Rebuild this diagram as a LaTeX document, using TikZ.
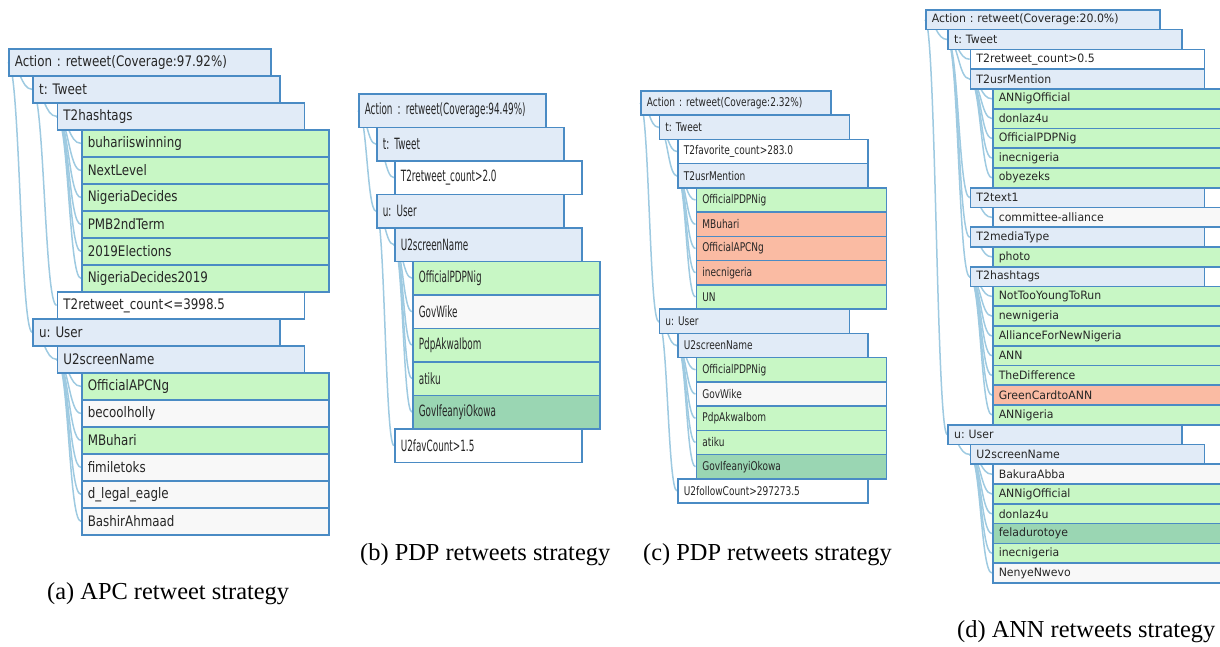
\documentclass[tikz,border=0pt]{standalone}
\usepackage{fontspec}
\setmainfont{Liberation Serif}
\newfontfamily\apcfont[FakeStretch=0.82]{DejaVu Sans}
\newfontfamily\pdpfont[FakeStretch=0.57]{DejaVu Sans}
\newfontfamily\pdpsmallfont[FakeStretch=0.75]{DejaVu Sans}
\newfontfamily\annfont[FakeStretch=0.95]{DejaVu Sans}
\frenchspacing
\usetikzlibrary{backgrounds}
\definecolor{boxline}{RGB}{74,139,196}
\definecolor{linkblue}{HTML}{9ECAE1}
\definecolor{hdrfill}{RGB}{225,235,247}
\definecolor{greenfill}{RGB}{200,247,197}
\definecolor{redfill}{RGB}{250,187,163}
\definecolor{deepfill}{RGB}{154,214,179}
\definecolor{greyfill}{RGB}{248,248,248}
\tikzset{
    tree/.style = {draw=boxline, line width=1.7pt, rectangle, anchor=north west,
        inner xsep=6pt, inner ysep=0pt, align=left, text=black!85},
    hdrbox/.style = {tree, fill=hdrfill},
    condbox/.style = {tree, fill=white},
    greenbox/.style = {tree, fill=greenfill},
    redbox/.style = {tree, fill=redfill},
    deepbox/.style = {tree, fill=deepfill},
    greybox/.style = {tree, fill=greyfill},
    link/.style = {draw=linkblue, line width=1.5pt},
    caption/.style = {anchor=base west, inner sep=0pt, font=\fontsize{24.4}{28}\selectfont},
    apc/.style = {shift={(8pt,-48pt)}, x=24.3pt, y=-27pt,
        nodes={minimum height=27pt, text width=235pt, font=\apcfont\fontsize{14.5}{16}\selectfont}},
    pdp/.style = {shift={(358pt,-93pt)}, x=18pt, y=-33.5pt,
        nodes={minimum height=33.5pt, text width=175pt, font=\pdpfont\fontsize{15.5}{17}\selectfont}},
    pdpsmall/.style = {shift={(640pt,-90pt)}, x=18.5pt, y=-24.25pt,
        nodes={minimum height=24.25pt, text width=178pt, font=\pdpsmallfont\fontsize{12}{14}\selectfont}},
    ann/.style = {shift={(925pt,-9pt)}, x=22.3pt, y=-19.76pt,
        nodes={minimum height=19.76pt, text width=222pt, font=\annfont\fontsize{11.5}{13}\selectfont}}
}
% parent to child, entering both boxes at their left side
\newcommand{\lnk}[2]{\draw[link] (#1.west) .. controls +(.5,0) and +(-.5,0) .. (#2.west);}

\begin{document}
\begin{tikzpicture}
    \clip (0,0) rectangle (1220pt,-646pt);

    % APC
    \begin{scope}[apc]
        \node[hdrbox, text width=250pt] (aact) at (0,0) {Action : retweet(Coverage:97.92\%)};
        \node[hdrbox] (atw) at (1,1) {t: Tweet};
        \node[hdrbox] (ahash) at (2,2) {T2hashtags};
        \node[greenbox] (ah1) at (3,3) {buhariiswinning};
        \node[greenbox] (ah2) at (3,4) {NextLevel};
        \node[greenbox] (ah3) at (3,5) {NigeriaDecides};
        \node[greenbox] (ah4) at (3,6) {PMB2ndTerm};
        \node[greenbox] (ah5) at (3,7) {2019Elections};
        \node[greenbox] (ah6) at (3,8) {NigeriaDecides2019};
        \node[condbox] (aret) at (2,9) {T2retweet\_count<=3998.5};
        \node[hdrbox] (ausr) at (1,10) {u: User};
        \node[hdrbox] (ascr) at (2,11) {U2screenName};
        \node[greenbox] (as1) at (3,12) {OfficialAPCNg};
        \node[greybox] (as2) at (3,13) {becoolholly};
        \node[greenbox] (as3) at (3,14) {MBuhari};
        \node[greybox] (as4) at (3,15) {fimiletoks};
        \node[greybox] (as5) at (3,16) {d\_legal\_eagle};
        \node[greybox] (as6) at (3,17) {BashirAhmaad};
        \begin{scope}[on background layer]
            \lnk{aact}{atw} \lnk{aact}{ausr}
            \lnk{atw}{ahash} \lnk{atw}{aret}
            \lnk{ahash}{ah1} \lnk{ahash}{ah2} \lnk{ahash}{ah3}
            \lnk{ahash}{ah4} \lnk{ahash}{ah5} \lnk{ahash}{ah6}
            \lnk{ausr}{ascr}
            \lnk{ascr}{as1} \lnk{ascr}{as2} \lnk{ascr}{as3}
            \lnk{ascr}{as4} \lnk{ascr}{as5} \lnk{ascr}{as6}
        \end{scope}
    \end{scope}

    % PDP, first tree
    \begin{scope}[pdp]
        \node[hdrbox] (bact) at (0,0) {Action : retweet(Coverage:94.49\%)};
        \node[hdrbox] (btw) at (1,1) {t: Tweet};
        \node[condbox] (bret) at (2,2) {T2retweet\_count>2.0};
        \node[hdrbox] (busr) at (1,3) {u: User};
        \node[hdrbox] (bscr) at (2,4) {U2screenName};
        \node[greenbox] (bs1) at (3,5) {OfficialPDPNig};
        \node[greybox] (bs2) at (3,6) {GovWike};
        \node[greenbox] (bs3) at (3,7) {PdpAkwaIbom};
        \node[greenbox] (bs4) at (3,8) {atiku};
        \node[deepbox] (bs5) at (3,9) {GovIfeanyiOkowa};
        \node[condbox] (bfav) at (2,10) {U2favCount>1.5};
        \begin{scope}[on background layer]
            \lnk{bact}{btw} \lnk{bact}{busr}
            \lnk{btw}{bret}
            \lnk{busr}{bscr} \lnk{busr}{bfav}
            \lnk{bscr}{bs1} \lnk{bscr}{bs2} \lnk{bscr}{bs3}
            \lnk{bscr}{bs4} \lnk{bscr}{bs5}
        \end{scope}
    \end{scope}

    % PDP, second tree
    \begin{scope}[pdpsmall]
        \node[hdrbox] (cact) at (0,0) {Action : retweet(Coverage:2.32\%)};
        \node[hdrbox] (ctw) at (1,1) {t: Tweet};
        \node[condbox] (cfav) at (2,2) {T2favorite\_count>283.0};
        \node[hdrbox] (cmen) at (2,3) {T2usrMention};
        \node[greenbox] (cm1) at (3,4) {OfficialPDPNig};
        \node[redbox] (cm2) at (3,5) {MBuhari};
        \node[redbox] (cm3) at (3,6) {OfficialAPCNg};
        \node[redbox] (cm4) at (3,7) {inecnigeria};
        \node[greenbox] (cm5) at (3,8) {UN};
        \node[hdrbox] (cusr) at (1,9) {u: User};
        \node[hdrbox] (cscr) at (2,10) {U2screenName};
        \node[greenbox] (cs1) at (3,11) {OfficialPDPNig};
        \node[greybox] (cs2) at (3,12) {GovWike};
        \node[greenbox] (cs3) at (3,13) {PdpAkwaIbom};
        \node[greenbox] (cs4) at (3,14) {atiku};
        \node[deepbox] (cs5) at (3,15) {GovIfeanyiOkowa};
        \node[condbox] (cfol) at (2,16) {U2followCount>297273.5};
        \begin{scope}[on background layer]
            \lnk{cact}{ctw} \lnk{cact}{cusr}
            \lnk{ctw}{cfav} \lnk{ctw}{cmen}
            \lnk{cmen}{cm1} \lnk{cmen}{cm2} \lnk{cmen}{cm3}
            \lnk{cmen}{cm4} \lnk{cmen}{cm5}
            \lnk{cusr}{cscr} \lnk{cusr}{cfol}
            \lnk{cscr}{cs1} \lnk{cscr}{cs2} \lnk{cscr}{cs3}
            \lnk{cscr}{cs4} \lnk{cscr}{cs5}
        \end{scope}
    \end{scope}

    % ANN
    \begin{scope}[ann]
        \node[hdrbox] (dact) at (0,0) {Action : retweet(Coverage:20.0\%)};
        \node[hdrbox] (dtw) at (1,1) {t: Tweet};
        \node[condbox] (dret) at (2,2) {T2retweet\_count>0.5};
        \node[hdrbox] (dmen) at (2,3) {T2usrMention};
        \node[greenbox] (dm1) at (3,4) {ANNigOfficial};
        \node[greenbox] (dm2) at (3,5) {donlaz4u};
        \node[greenbox] (dm3) at (3,6) {OfficialPDPNig};
        \node[greenbox] (dm4) at (3,7) {inecnigeria};
        \node[greenbox] (dm5) at (3,8) {obyezeks};
        \node[hdrbox] (dtxt) at (2,9) {T2text1};
        \node[greybox] (dt1) at (3,10) {committee-alliance};
        \node[hdrbox] (dmed) at (2,11) {T2mediaType};
        \node[greenbox] (dp1) at (3,12) {photo};
        \node[hdrbox] (dhash) at (2,13) {T2hashtags};
        \node[greenbox] (dh1) at (3,14) {NotTooYoungToRun};
        \node[greenbox] (dh2) at (3,15) {newnigeria};
        \node[greenbox] (dh3) at (3,16) {AllianceForNewNigeria};
        \node[greenbox] (dh4) at (3,17) {ANN};
        \node[greenbox] (dh5) at (3,18) {TheDifference};
        \node[redbox] (dh6) at (3,19) {GreenCardtoANN};
        \node[greenbox] (dh7) at (3,20) {ANNigeria};
        \node[hdrbox] (dusr) at (1,21) {u: User};
        \node[hdrbox] (dscr) at (2,22) {U2screenName};
        \node[greybox] (ds1) at (3,23) {BakuraAbba};
        \node[greenbox] (ds2) at (3,24) {ANNigOfficial};
        \node[greenbox] (ds3) at (3,25) {donlaz4u};
        \node[deepbox] (ds4) at (3,26) {feladurotoye};
        \node[greenbox] (ds5) at (3,27) {inecnigeria};
        \node[greybox] (ds6) at (3,28) {NenyeNwevo};
        \begin{scope}[on background layer]
            \lnk{dact}{dtw} \lnk{dact}{dusr}
            \lnk{dtw}{dret} \lnk{dtw}{dmen} \lnk{dtw}{dtxt}
            \lnk{dtw}{dmed} \lnk{dtw}{dhash}
            \lnk{dmen}{dm1} \lnk{dmen}{dm2} \lnk{dmen}{dm3}
            \lnk{dmen}{dm4} \lnk{dmen}{dm5}
            \lnk{dtxt}{dt1}
            \lnk{dmed}{dp1}
            \lnk{dhash}{dh1} \lnk{dhash}{dh2} \lnk{dhash}{dh3} \lnk{dhash}{dh4}
            \lnk{dhash}{dh5} \lnk{dhash}{dh6} \lnk{dhash}{dh7}
            \lnk{dusr}{dscr}
            \lnk{dscr}{ds1} \lnk{dscr}{ds2} \lnk{dscr}{ds3}
            \lnk{dscr}{ds4} \lnk{dscr}{ds5} \lnk{dscr}{ds6}
        \end{scope}
    \end{scope}

    % sub-captions
    \node[caption] (capa) at (47pt,-599pt) {(a) APC retweet strategy};
    \node[caption] (capb) at (360pt,-560pt) {(b) PDP retweets strategy};
    \node[caption] (capc) at (643pt,-560pt) {(c) PDP retweets strategy};
    \node[caption] (capd) at (957pt,-637pt) {(d) ANN retweets strategy};
\end{tikzpicture}
\end{document}
